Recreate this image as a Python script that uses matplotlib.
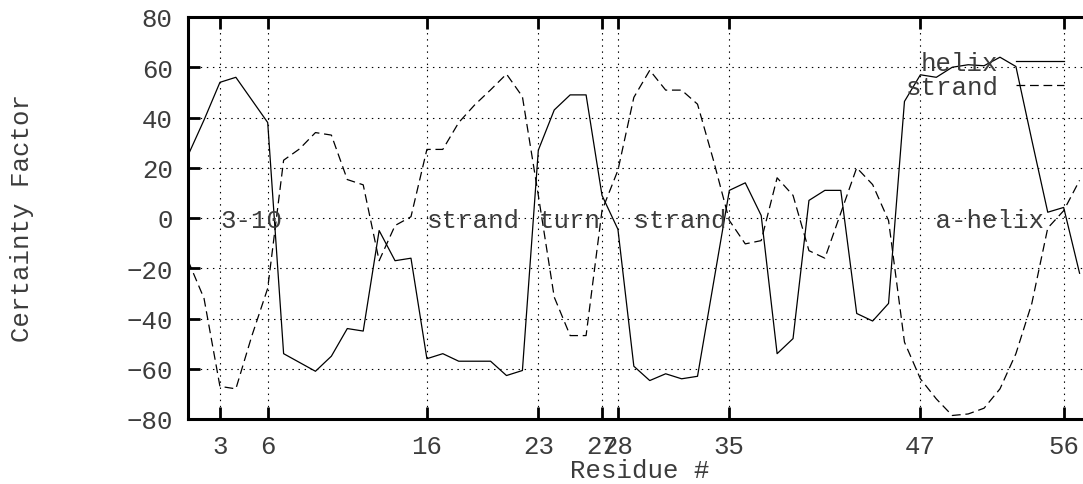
import matplotlib
matplotlib.use("Agg")
import matplotlib.pyplot as plt
import numpy as np

# ---- data ----
residues = list(range(1, 58))
helix = [25, 39, 54, 56, 47, 38, -54, -57.5, -61, -55, -44, -45, -5, -17, -16,
         -56, -54, -57, -57, -57, -62.7, -60.7, 27, 43, 49, 49, 9, -4.5, -59,
         -64.7, -62, -64, -63, -26, 11, 14, 1, -54, -48, 7, 11, 11, -38, -41,
         -34, 46.4, 57, 56, 60, 61, 60.6, 64, 60.3, 31, 2.3, 4.2, -22]
strand = [-17, -32, -67, -68, -47, -28, 23, 27.5, 34, 33, 15.3, 13.2, -17, -3,
          0.5, 27.3, 27.3, 38, 45, 51, 57.3, 48.3, 9, -31.5, -46.8, -46.8, 3,
          19, 48, 58.8, 50.9, 50.9, 45.3, 23, -1, -10.3, -9, 16, 9, -13, -16,
          2, 20, 13.3, -1, -49.4, -64, -72, -78.6, -78, -75.7, -68, -54, -34,
          -4, 2.9, 15]
xticks = [3, 6, 16, 23, 27, 28, 35, 47, 56]
yticks = [-80, -60, -40, -20, 0, 20, 40, 60, 80]
region_labels = ["3-10", "strand", "turn", " strand", " a-helix"]
region_pos = [3, 16, 23, 28, 47]

FONT = "Liberation Mono"
FS = 18.5
TXT = "#3c3c3c"

W, H = 1083, 485
fig = plt.figure(figsize=(W / 100, H / 100), dpi=100)
left_px, right_px, top_px, bot_px = 188.1, 1095.5, 18, 420
ax = fig.add_axes([left_px / W, 1 - bot_px / H, (right_px - left_px) / W,
                   (bot_px - top_px) / H])

ax.plot(residues, helix, color="black", lw=0.9, label="helix")
ax.plot(residues, strand, color="black", lw=0.9, ls=(0, (7, 3.8)),
        label="strand")

ax.set_xlim(1, 58)
ax.set_ylim(-80, 80)
ax.set_xticks(xticks)
ax.set_yticks(yticks)
ax.set_yticklabels([("\u2212%d" % -v if v < 0 else str(v)) for v in yticks])

ax.grid(True, color="black", lw=0.8, ls=(0, (1.3, 4.2)))
ax.tick_params(direction="in", length=8.5, width=2.0, top=True, right=True,
               labelsize=FS, labelcolor=TXT)
ax.tick_params(axis="y", pad=11)
ax.tick_params(axis="x", pad=11)
for lab in ax.get_xticklabels() + ax.get_yticklabels():
    lab.set_family(FONT)
for sp in ax.spines.values():
    sp.set_linewidth(2.2)

for txt, pos in zip(region_labels, region_pos):
    ax.text(pos, 0, txt, family=FONT, fontsize=FS, color=TXT,
            ha="left", va="center_baseline")

leg = ax.legend(loc="upper right",
                bbox_to_anchor=((1064 - left_px) / (right_px - left_px),
                                (bot_px - 52) / (bot_px - top_px)),
                frameon=False, markerfirst=False, prop={"family": FONT, "size": FS},
                handlelength=1.85, handletextpad=0.7, labelspacing=0.0,
                borderpad=0, borderaxespad=0)
for t in leg.get_texts():
    t.set_color(TXT)

fig.text(22 / W, 1 - 218.5 / H, "Certainty Factor", rotation=90, ha="center",
         va="center", family=FONT, fontsize=FS, color=TXT)
fig.text(640 / W, 1 - 471 / H, "Residue #", ha="center", va="center",
         family=FONT, fontsize=FS, color=TXT)

fig.savefig("out.png", dpi=100)
